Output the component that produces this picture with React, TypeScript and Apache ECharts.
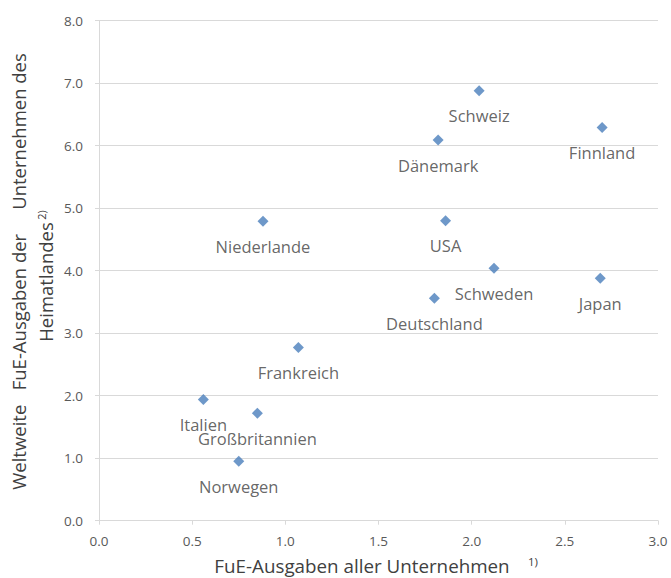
import React, { useEffect, useRef } from "react";
import * as echarts from "echarts";

const countries = [
  "Schweiz", "Finnland", "Dänemark", "USA", "Schweden", "Japan",
  "Deutschland", "Niederlande", "Frankreich", "Italien", "Großbritannien", "Norwegen",
];
const xValues = [2.04, 2.70, 1.82, 1.86, 2.12, 2.69, 1.80, 0.88, 1.07, 0.56, 0.85, 0.75];
const yValues = [6.88, 6.29, 6.09, 4.80, 4.04, 3.88, 3.56, 4.79, 2.77, 1.94, 1.72, 0.95];

const xTitle = "FuE-Ausgaben aller Unternehmen";
const xTitleSup = "1)";
const yTitle1 = "Weltweite   FuE-Ausgaben der     Unternehmen des";
const yTitle2 = "Heimatlandes";
const yTitle2Sup = "2)";

const FONT = "Open Sans";

export default function App() {
  const ref = useRef<HTMLDivElement>(null);
  useEffect(() => {
    if (!ref.current) return;
    const chart = echarts.init(ref.current, undefined, { renderer: "svg" });
    const data = countries.map((c, i) => ({ name: c, value: [xValues[i], yValues[i]] }));
    chart.setOption({
      animation: false,
      textStyle: { fontFamily: FONT },
      grid: { left: 99, right: 13, top: 20.7, bottom: 57.3, containLabel: false },
      xAxis: {
        type: "value",
        min: 0,
        max: 3,
        interval: 0.5,
        axisLine: { show: true, lineStyle: { color: "#d9d9d9", width: 1 } },
        axisTick: { show: true, length: 4, lineStyle: { color: "#d9d9d9" } },
        splitLine: { show: false },
        axisLabel: {
          color: "#595959",
          fontSize: 13.5,
          fontFamily: FONT,
          margin: 13,
          formatter: (v: number) => v.toFixed(1),
        },
      },
      yAxis: {
        type: "value",
        min: 0,
        max: 8,
        interval: 1,
        axisLine: { show: true, lineStyle: { color: "#d9d9d9", width: 1 } },
        axisTick: { show: true, length: 4, lineStyle: { color: "#d9d9d9" } },
        splitLine: { show: true, lineStyle: { color: "#d9d9d9", width: 1 } },
        axisLabel: {
          color: "#595959",
          fontSize: 13.5,
          fontFamily: FONT,
          margin: 16,
          formatter: (v: number) => v.toFixed(1),
        },
      },
      series: [
        {
          type: "scatter",
          symbol: "diamond",
          symbolSize: 11,
          itemStyle: { color: "#4a7ebb" },
          data,
          label: {
            show: true,
            position: "inside",
            offset: [0, 25],
            formatter: (p: any) => p.name,
            color: "#404040",
            fontSize: 16.5,
            fontFamily: FONT,
          },
        },
      ],
      graphic: [
        {
          type: "text",
          x: 362,
          y: 565.5,
          style: {
            text: xTitle,
            align: "center",
            verticalAlign: "middle",
            fill: "#404040",
            fontSize: 18.8,
            fontFamily: FONT,
          },
        },
        {
          type: "text",
          x: 533,
          y: 561,
          style: {
            text: xTitleSup,
            align: "center",
            verticalAlign: "middle",
            fill: "#404040",
            fontSize: 11.5,
            fontFamily: FONT,
          },
        },
        {
          type: "text",
          x: 18,
          y: 271.5,
          rotation: Math.PI / 2,
          style: {
            text: yTitle1,
            align: "center",
            verticalAlign: "middle",
            fill: "#404040",
            fontSize: 18.5,
            fontFamily: FONT,
          },
        },
        {
          type: "text",
          x: 45,
          y: 282,
          rotation: Math.PI / 2,
          style: {
            text: yTitle2,
            align: "center",
            verticalAlign: "middle",
            fill: "#404040",
            fontSize: 18.5,
            fontFamily: FONT,
          },
        },
        {
          type: "text",
          x: 41,
          y: 215,
          rotation: Math.PI / 2,
          style: {
            text: yTitle2Sup,
            align: "center",
            verticalAlign: "middle",
            fill: "#404040",
            fontSize: 11,
            fontFamily: FONT,
          },
        },
      ],
    });
    return () => chart.dispose();
  }, []);
  return <div ref={ref} style={{ width: 671, height: 578, position: "absolute", left: 0, top: 0 }} />;
}
